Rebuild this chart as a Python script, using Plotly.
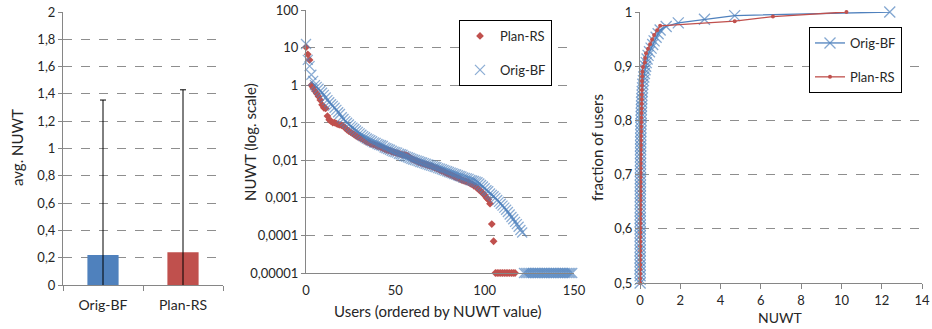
import plotly.graph_objects as go

# ---------------- data ----------------
bar_categories = ["Orig-BF", "Plan-RS"]
bar_means = [0.22, 0.24]
bar_err = [1.135, 1.19]

# NUWT per user, sorted descending (0 = no waiting time)
orig_bf = [
    12.4, 4.7, 3.2, 1.9, 1.3, 1.0, 0.9, 0.8, 0.7, 0.63,
    0.55, 0.47, 0.4, 0.35, 0.31, 0.28, 0.25, 0.22, 0.19, 0.17,
    0.14, 0.125, 0.11, 0.1, 0.09, 0.08, 0.074, 0.068, 0.062, 0.057,
    0.052, 0.048, 0.044, 0.041, 0.038, 0.036, 0.034, 0.032, 0.030, 0.029,
    0.027, 0.026, 0.025, 0.024, 0.022, 0.021, 0.020, 0.019, 0.018, 0.017,
    0.0165, 0.016, 0.015, 0.0145, 0.014, 0.013, 0.0125, 0.012, 0.0115, 0.011,
    0.0105, 0.0102, 0.0098, 0.0094, 0.009, 0.0087, 0.0084, 0.0081, 0.0078, 0.0075,
    0.0072, 0.007, 0.0067, 0.0065, 0.0062, 0.006, 0.0058, 0.0055, 0.0053, 0.0051,
    0.0049, 0.0047, 0.0045, 0.0043, 0.0042, 0.004, 0.0038, 0.0037, 0.0035, 0.0034,
    0.0033, 0.0032, 0.003, 0.0029, 0.0028, 0.0027, 0.0026, 0.0024, 0.0022, 0.002,
    0.0018, 0.0016, 0.0015, 0.0013, 0.0012, 0.0011, 0.001, 0.00088, 0.00078, 0.0007,
    0.00062, 0.00055, 0.00048, 0.00042, 0.00036, 0.00031, 0.00027, 0.00023, 0.0002, 0.00017,
    0.00014, 0.00012,
    0, 0, 0, 0, 0, 0, 0, 0, 0, 0, 0, 0, 0, 0,
    0, 0, 0, 0, 0, 0, 0, 0, 0, 0, 0, 0, 0, 0,
]
plan_rs = [
    10.25, 6.6, 4.7, 1.0, 0.85, 0.7, 0.6, 0.5, 0.4, 0.3,
    0.25, 0.24, 0.15, 0.12, 0.11, 0.1, 0.1, 0.095, 0.09, 0.088,
    0.085, 0.08, 0.072, 0.065, 0.06, 0.056, 0.052, 0.048, 0.045, 0.042,
    0.04, 0.038, 0.036, 0.033, 0.031, 0.03, 0.028, 0.027, 0.026, 0.025,
    0.024, 0.023, 0.022, 0.021, 0.02, 0.019, 0.0185, 0.018, 0.017, 0.0165,
    0.016, 0.0155, 0.015, 0.0145, 0.014, 0.014, 0.0135, 0.013, 0.012, 0.011,
    0.0105, 0.01, 0.0095, 0.009, 0.0087, 0.0083, 0.008, 0.0078, 0.0075, 0.0072,
    0.007, 0.0067, 0.0064, 0.0061, 0.0058, 0.0055, 0.0052, 0.005, 0.0047, 0.0045,
    0.0043, 0.0041, 0.0039, 0.0037, 0.0035, 0.0034, 0.0032, 0.003, 0.0029, 0.0028,
    0.0027, 0.0026, 0.0024, 0.0023, 0.0021, 0.002, 0.0018, 0.0016, 0.0015, 0.0013,
    0.0012, 0.001, 0.0009, 0.0007, 0.0002, 0.00007,
    0, 0, 0, 0, 0, 0, 0, 0, 0, 0, 0, 0,
]
log_floor = 0.00001
log_tickvals = [100, 10, 1, 0.1, 0.01, 0.001, 0.0001, 0.00001]
log_ticktext = ["100", "10", "1", "0,1", "0,01", "0,001", "0,0001", "0,00001"]

BLUE = "#4F81BD"
RED = "#C0504D"
FONT = "Lato"
TXT = "#262626"
GRID = "#8e8e8e"
AXIS = "#868686"
W, H = 932, 329

fig = go.Figure()

# ---- panel 1: bars ----
fig.add_trace(go.Bar(
    x=bar_categories, y=bar_means,
    marker=dict(color=[BLUE, RED], line=dict(width=0)),
    error_y=dict(type="data", array=bar_err, color="black", thickness=1, width=3),
    width=0.39, showlegend=False, xaxis="x", yaxis="y",
))

# ---- panel 2: sorted NUWT (log) ----
def floor_zero(vals):
    return [v if v > 0 else log_floor for v in vals]

fig.add_trace(go.Scatter(
    x=list(range(len(plan_rs))), y=floor_zero(plan_rs), mode="markers",
    name="Plan-RS", marker=dict(symbol="diamond", size=6, color=RED),
    cliponaxis=False, xaxis="x2", yaxis="y2", legend="legend", legendgroup="a",
))
fig.add_trace(go.Scatter(
    x=list(range(len(orig_bf))), y=floor_zero(orig_bf), mode="markers",
    name="Orig-BF",
    marker=dict(symbol="x-thin-open", size=10, color="rgba(79,129,189,0.65)",
                line=dict(width=1.3, color="rgba(79,129,189,0.65)")),
    cliponaxis=False, xaxis="x2", yaxis="y2", legend="legend", legendgroup="b",
))

# ---- panel 3: CDF ----
def cdf(vals):
    s = sorted(vals)
    n = len(s)
    xs, ys = [], []
    for k, v in enumerate(s):
        f = (k + 1) / n
        if f >= 0.5:
            xs.append(v)
            ys.append(f)
    return xs, ys

bx, by = cdf(orig_bf)
rx, ry = cdf(plan_rs)
fig.add_trace(go.Scatter(
    x=bx, y=by, mode="lines+markers", name="Orig-BF",
    line=dict(color=BLUE, width=1.3),
    marker=dict(symbol="x-thin-open", size=11, color="rgba(79,129,189,0.7)",
                line=dict(width=1.3, color="rgba(79,129,189,0.7)")),
    cliponaxis=False, xaxis="x3", yaxis="y3", legend="legend2", legendgroup="c",
))
fig.add_trace(go.Scatter(
    x=rx, y=ry, mode="lines+markers", name="Plan-RS",
    line=dict(color=RED, width=1.3),
    marker=dict(symbol="circle", size=4, color=RED),
    cliponaxis=False, xaxis="x3", yaxis="y3", legend="legend2", legendgroup="d",
))

tickfont = dict(family=FONT, size=13, color=TXT)
common_y = dict(showgrid=True, gridcolor=GRID, griddash="dash", gridwidth=1,
                showline=True, linecolor=AXIS, linewidth=1, zeroline=False,
                ticks="outside", ticklen=4, tickcolor=AXIS, tickfont=tickfont,
                automargin=False)
common_x = dict(showgrid=False, showline=True, linecolor=AXIS, linewidth=1,
                zeroline=False, automargin=False)


def ann(text, x, y, angle=0, size=15):
    return dict(text=text, x=x / W, y=1 - y / H, xref="paper", yref="paper",
                xanchor="center", yanchor="middle", textangle=angle,
                showarrow=False, font=dict(family=FONT, size=size, color=TXT))


legend_style = dict(xanchor="left", yanchor="top", bordercolor="black",
                    borderwidth=1, bgcolor="white",
                    font=dict(family=FONT, size=13, color=TXT),
                    traceorder="grouped", tracegroupgap=14, entrywidth=76)

fig.update_layout(
    width=W, height=H, autosize=False,
    margin=dict(l=0, r=0, t=0, b=0, pad=0, autoexpand=False),
    paper_bgcolor="white", plot_bgcolor="white",
    separators=",.",
    font=dict(family=FONT, size=13, color=TXT),
    xaxis=dict(domain=[63 / W, 223 / W], anchor="y", ticks="outside",
               tickson="boundaries", ticklen=5, tickcolor=AXIS,
               ticklabelstandoff=7,
               tickfont=dict(family=FONT, size=14, color=TXT), **common_x),
    yaxis=dict(domain=[44 / H, 317 / H], anchor="x", range=[0, 2], dtick=0.2,
               **common_y),
    xaxis2=dict(domain=[306 / W, 574 / W], anchor="y2", range=[0, 150],
                tickvals=[0, 50, 100, 150], ticks="", ticklabelstandoff=5,
                tickfont=tickfont, **common_x),
    yaxis2=dict(domain=[56 / H, 319 / H], anchor="x2", type="log",
                range=[-5, 2], tickvals=log_tickvals, ticktext=log_ticktext,
                **common_y),
    xaxis3=dict(domain=[640 / W, 922 / W], anchor="y3", range=[0, 14], dtick=2,
                ticks="outside", ticklen=5, tickcolor=AXIS, tickfont=tickfont,
                **common_x),
    yaxis3=dict(domain=[46 / H, 317 / H], anchor="x3", range=[0.5, 1], dtick=0.1,
                **common_y),
    legend=dict(x=459 / W, y=1 - 20 / H, **legend_style),
    legend2=dict(x=809 / W, y=1 - 27 / H, **legend_style),
    annotations=[
        ann("avg. NUWT", 17, 148, -90),
        ann("NUWT (log. scale)", 250, 142, -90),
        ann("Users (ordered by NUWT value)", 438, 311),
        ann("fraction of users", 597, 148, -90),
        ann("NUWT", 780, 317, size=14),
    ],
)

fig.write_html("out.html", config={"responsive": False, "displayModeBar": False})
